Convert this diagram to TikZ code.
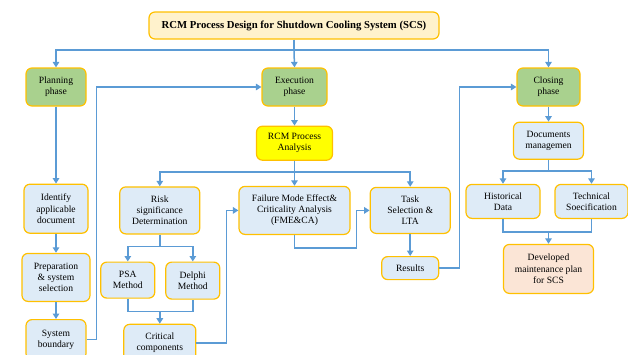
\documentclass[tikz,border=0pt]{standalone}
\usepackage{fontspec}
\setmainfont{Liberation Serif}
\newfontfamily\diagfont{Liberation Serif}
\usetikzlibrary{arrows.meta, positioning}

\definecolor{boxblue}{HTML}{DEEBF7}
\definecolor{phasegreen}{HTML}{A9D18E}
\definecolor{titlefill}{HTML}{FFF2CC}
\definecolor{rcmyellow}{HTML}{FFFF00}
\definecolor{devpeach}{HTML}{FBE5D6}
\definecolor{edgegold}{HTML}{FFC000}
\definecolor{lineblue}{HTML}{5B9BD5}

\begin{document}
\begin{tikzpicture}[
    x=1pt, y=1pt,
    node distance=19pt and 19pt,
    box/.style={draw=edgegold, line width=1.2pt, rounded corners=6pt, font=\diagfont\fontsize{9.6}{11.2}\selectfont, align=center, inner sep=1pt, fill=#1},
    box/.default=boxblue,
    phasebox/.style={box=phasegreen, minimum height=38pt},
    arrow/.style={-{Triangle[length=5.5pt,width=6.5pt]}, line width=1.5pt, draw=lineblue},
    link/.style={line width=1.5pt, draw=lineblue},
]
\useasboundingbox (0,0) rectangle (628,-354);
\node[box=titlefill, minimum width=290pt, minimum height=27pt, font=\diagfont\fontsize{10.7}{12}\selectfont\bfseries] (title) at (294,-25.5) {RCM Process Design for Shutdown Cooling System (SCS)};
\node[phasebox, minimum width=60pt] (plan) at (56,-87) {Planning\\phase};
\node[phasebox, minimum width=65pt] (exec) at (294.5,-87) {Execution\\phase};
\node[phasebox, minimum width=63pt] (close) at (548.5,-87) {Closing\\phase};
% planning column
\node[box, minimum width=64pt, minimum height=49pt, below=77pt of plan] (ident) {Identify\\applicable\\document};
\node[box, minimum width=68pt, minimum height=48pt, below=19pt of ident] (prep) {Preparation\\\& system\\selection};
\node[box, minimum width=60pt, minimum height=40pt, below=17pt of prep] (sysb) {System\\boundary};
% execution column
\node[box=rcmyellow, minimum width=76pt, minimum height=34pt, below=19pt of exec] (rcm) {RCM Process\\Analysis};
\node[box, minimum width=111pt, minimum height=48pt, below=25pt of rcm] (fme) {Failure Mode Effect\&\\Criticality Analysis\\(FME\&CA)};
\node[box, minimum width=80pt, minimum height=47pt, left=38pt of fme] (risk) {Risk\\significance\\Determination};
\node[box, minimum width=80pt, minimum height=46pt, right=19pt of fme] (task) {Task\\Selection \&\\LTA};
\node[box, minimum width=57pt, minimum height=23pt, below=22pt of task] (res) {Results};
\node[box, minimum width=54pt, minimum height=36pt, below=27pt of risk, xshift=-32pt] (psa) {PSA\\Method};
\node[box, minimum width=54pt, minimum height=37pt, below=27pt of risk, xshift=33pt] (delphi) {Delphi\\Method};
\node[box, minimum width=72pt, minimum height=37pt, below=25pt of psa, xshift=32pt] (crit) {Critical\\components};
% closing column
\node[box, minimum width=70pt, minimum height=37pt, below=15pt of close] (docs) {Documents\\managemen};
\node[box, minimum width=74pt, minimum height=34pt, below=24pt of docs, xshift=-45.5pt] (hist) {Historical\\Data};
\node[box, minimum width=73pt, minimum height=34pt, below=24pt of docs, xshift=43pt] (tech) {Technical\\Soecification};
\node[box=devpeach, minimum width=90pt, minimum height=49pt, below=84pt of docs] (dev) {Developed\\maintenance plan\\for SCS};

\coordinate (tjoin) at (294,-50);
\draw[link] (title.south) -- (tjoin);
\draw[arrow] (tjoin) -| (plan.north);
\draw[arrow] (tjoin) -| (close.north);
\draw[arrow] (tjoin) -- (exec.north);
\draw[arrow] (plan) -- (ident);
\draw[arrow] (ident) -- (prep);
\draw[arrow] (prep) -- (sysb);
\draw[arrow] (sysb.east) -- ++(10,0) |- (exec.west);
\draw[arrow] (exec) -- (rcm);
\draw[arrow] (rcm.south) -- ++(0,-11) -| (risk.north);
\draw[arrow] (rcm.south) -- ++(0,-11) -| (task.north);
\draw[arrow] (rcm) -- (fme);
\draw[arrow] (risk.south) -- ++(0,-12) -| (psa.north);
\draw[arrow] (risk.south) -- ++(0,-12) -| (delphi.north);
\draw[link] (psa.south) -- ++(0,-13) -| (delphi.south);
\draw[arrow] (crit.north) ++(0,12) -- (crit.north);
\draw[arrow] (crit.east) -- ++(30,0) |- (fme.west);
\draw[arrow] (fme.south) |- ++(62,-13) |- (task.west);
\draw[arrow] (task) -- (res);
\draw[arrow] (res.east) -- ++(20,0) |- (close.west);
\draw[arrow] (close) -- (docs);
\draw[arrow] (docs.south) -- ++(0,-11) -| (hist.north);
\draw[arrow] (docs.south) -- ++(0,-11) -| (tech.north);
\draw[link] (hist.south) -- ++(0,-13) -| (tech.south);
\draw[arrow] (dev.north) ++(0,13) -- (dev.north);
\end{tikzpicture}
\end{document}
